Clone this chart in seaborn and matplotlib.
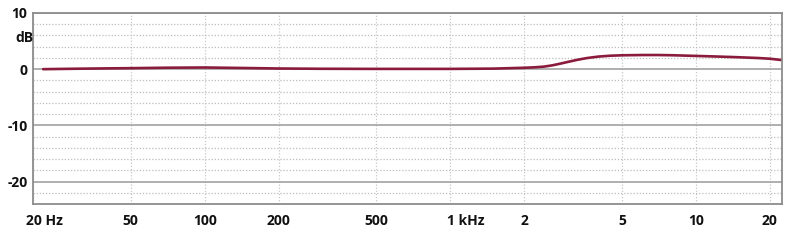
import matplotlib
matplotlib.use("Agg")
import matplotlib.pyplot as plt
import matplotlib.transforms as mtransforms
from matplotlib.ticker import MultipleLocator, FixedLocator, NullLocator
import seaborn as sns
import pandas as pd

# Data
freq_hz = [22, 30, 40, 50, 70, 100, 150, 200, 300, 500, 1000, 1500, 2000, 2200, 2400,
           2600, 2800, 3000, 3300, 3600, 4000, 4500, 5000, 6000, 7000, 8000, 10000,
           12000, 15000, 18000, 20000, 22400]
level_db = [0.0, 0.08, 0.14, 0.18, 0.26, 0.3, 0.2, 0.12, 0.07, 0.05, 0.05, 0.1, 0.25, 0.33, 0.45,
            0.68, 0.98, 1.28, 1.68, 1.98, 2.24, 2.4, 2.47, 2.52, 2.52, 2.48, 2.36,
            2.26, 2.12, 1.98, 1.86, 1.62]
x_ticks = [20, 50, 100, 200, 500, 1000, 2000, 5000, 10000, 20000]
x_labels = ["20 Hz", "50", "100", "200", "500", "1 kHz", "2", "5", "10", "20"]
y_ticks = [10, 0, -10, -20]
y_labels = ["10", "0", "-10", "-20"]

sns.set_style("white")
plt.rcParams['font.family'] = ['Open Sans', 'DejaVu Sans']

df = pd.DataFrame({"f": freq_hz, "db": level_db})

fig = plt.figure(figsize=(8.0, 2.46), dpi=100)
ax = fig.add_axes([33/800, 42/246, 749/800, 191/246])

ax.set_xscale("log")
ax.set_xlim(20, 22400)
ax.set_ylim(-24, 10)

# grid
ax.xaxis.set_major_locator(FixedLocator(x_ticks))
ax.xaxis.set_minor_locator(NullLocator())
ax.yaxis.set_major_locator(FixedLocator(y_ticks))
ax.yaxis.set_minor_locator(MultipleLocator(2))
ax.grid(axis="x", which="major", color="#c8c8c8", linestyle=(0, (1, 1.5)), linewidth=0.9)
ax.grid(axis="y", which="major", color="#9a9a9a", linestyle="-", linewidth=1.1)
ax.grid(axis="y", which="minor", color="#bdbdbd", linestyle=(0, (1, 1.5)), linewidth=0.9)
ax.set_axisbelow(True)

sns.lineplot(data=df, x="f", y="db", ax=ax, color="#8b1b3d", linewidth=1.9)
ax.set_xlabel("")
ax.set_ylabel("")

ax.set_xticklabels(x_labels, fontsize=10, fontweight="bold", color="#111111")
ax.set_yticklabels(y_labels, fontsize=10, fontweight="bold", color="#111111")
ax.tick_params(axis="both", which="both", length=0)
ax.tick_params(axis="x", pad=7)
ax.tick_params(axis="y", pad=4)

# labels with unit: keep the number centered on the tick
offsets = {"20 Hz": 7, "1 kHz": 3}
for lab in ax.get_xticklabels():
    t = lab.get_text()
    if t in offsets:
        lab.set_horizontalalignment("left")
        lab.set_transform(lab.get_transform() + mtransforms.ScaledTranslation(-offsets[t]/100, 0, fig.dpi_scale_trans))

for s in ax.spines.values():
    s.set_color("#8c8c8c")
    s.set_linewidth(1.3)
    s.set_visible(True)

fig.text(24/800, 1 - 38/246, "dB", ha="center", va="center", fontsize=10,
         fontweight="bold", color="#111111")

fig.savefig("out.png", dpi=100, facecolor="white")
